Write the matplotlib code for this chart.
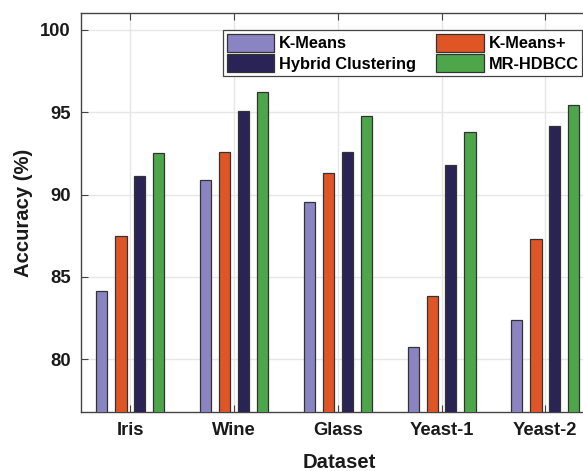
import matplotlib
matplotlib.use("Agg")
import matplotlib.pyplot as plt
import numpy as np

plt.rcParams['font.family'] = ['Liberation Sans', 'DejaVu Sans']
plt.rcParams['font.weight'] = 'bold'

datasets = ["Iris", "Wine", "Glass", "Yeast-1", "Yeast-2"]
methods = ["K-Means", "K-Means+", "Hybrid Clustering", "MR-HDBCC"]
kmeans = [84.15, 90.87, 89.58, 80.75, 82.40]
kmeans_plus = [87.49, 92.61, 91.32, 83.87, 87.31]
hybrid = [91.15, 95.10, 92.61, 91.82, 94.17]
mrhdbcc = [92.51, 96.24, 94.76, 93.81, 95.45]
yticks = [80, 85, 90, 95, 100]

series = [kmeans, kmeans_plus, hybrid, mrhdbcc]
colors = ["#8A84C2", "#E05526", "#2A2355", "#4DA64A"]

W, H = 583, 471
fig = plt.figure(figsize=(W / 100, H / 100), dpi=100)
x0, x1 = 0.52, 5.5
px_per_unit = 103.75
left_px, top_px, bottom_px = 80.5, 12.7, 412.3
ax = fig.add_axes([left_px / W, 1 - bottom_px / H,
                   (x1 - x0) * px_per_unit / W, (bottom_px - top_px) / H])

x = np.arange(1, len(datasets) + 1)
offsets = [-0.274, -0.09, 0.09, 0.274]
width = 0.108
handles = []
for vals, off, c, name in zip(series, offsets, colors, methods):
    b = ax.bar(x + off, vals, width=width, color=c, edgecolor="#333333",
               linewidth=0.9, label=name, zorder=3)
    handles.append(b)

ax.set_xlim(x0, x1)
ax.set_ylim(76.78, 101.05)
ax.set_xticks(x)
ax.set_xticklabels(datasets)
ax.set_yticks(yticks)
ax.set_yticklabels([str(v) for v in yticks])
ax.tick_params(axis='both', labelsize=13.2, width=0.8, length=5,
               direction='in', colors="#444444", labelcolor="#1a1a1a")
ax.tick_params(axis='x', top=True, pad=7)
ax.tick_params(axis='y', right=True, pad=7)
for lab in ax.get_xticklabels() + ax.get_yticklabels():
    lab.set_fontweight('bold')
ax.grid(True, color="#E6E6E6", linewidth=1.0, zorder=0)
ax.set_axisbelow(True)
for s in ax.spines.values():
    s.set_color("#444444")
    s.set_linewidth(1.0)

ax.set_xlabel("Dataset", fontsize=14.6, fontweight='bold', color="#1a1a1a", labelpad=10)
ax.set_ylabel("Accuracy (%)", fontsize=14.6, fontweight='bold', color="#1a1a1a", labelpad=5)

order = [handles[0], handles[2], handles[1], handles[3]]
lx0, lx1, ly0, ly1 = 223.3, 581.7, 27.7, 75.7
leg = fig.legend(order, [h.get_label() for h in order], ncol=2,
                 loc='lower left',
                 bbox_to_anchor=(lx0 / W, 1 - ly1 / H, (lx1 - lx0) / W, (ly1 - ly0) / H),
                 bbox_transform=fig.transFigure, mode='expand',
                 borderaxespad=0, fancybox=False, framealpha=1,
                 edgecolor="#444444",
                 handlelength=2.9, handleheight=1.35, handletextpad=0.3,
                 columnspacing=0.4, labelspacing=0.12, borderpad=0.2,
                 prop={'weight': 'bold', 'size': 11.8})
leg.get_frame().set_linewidth(0.9)

fig.savefig("out.png", dpi=100)
